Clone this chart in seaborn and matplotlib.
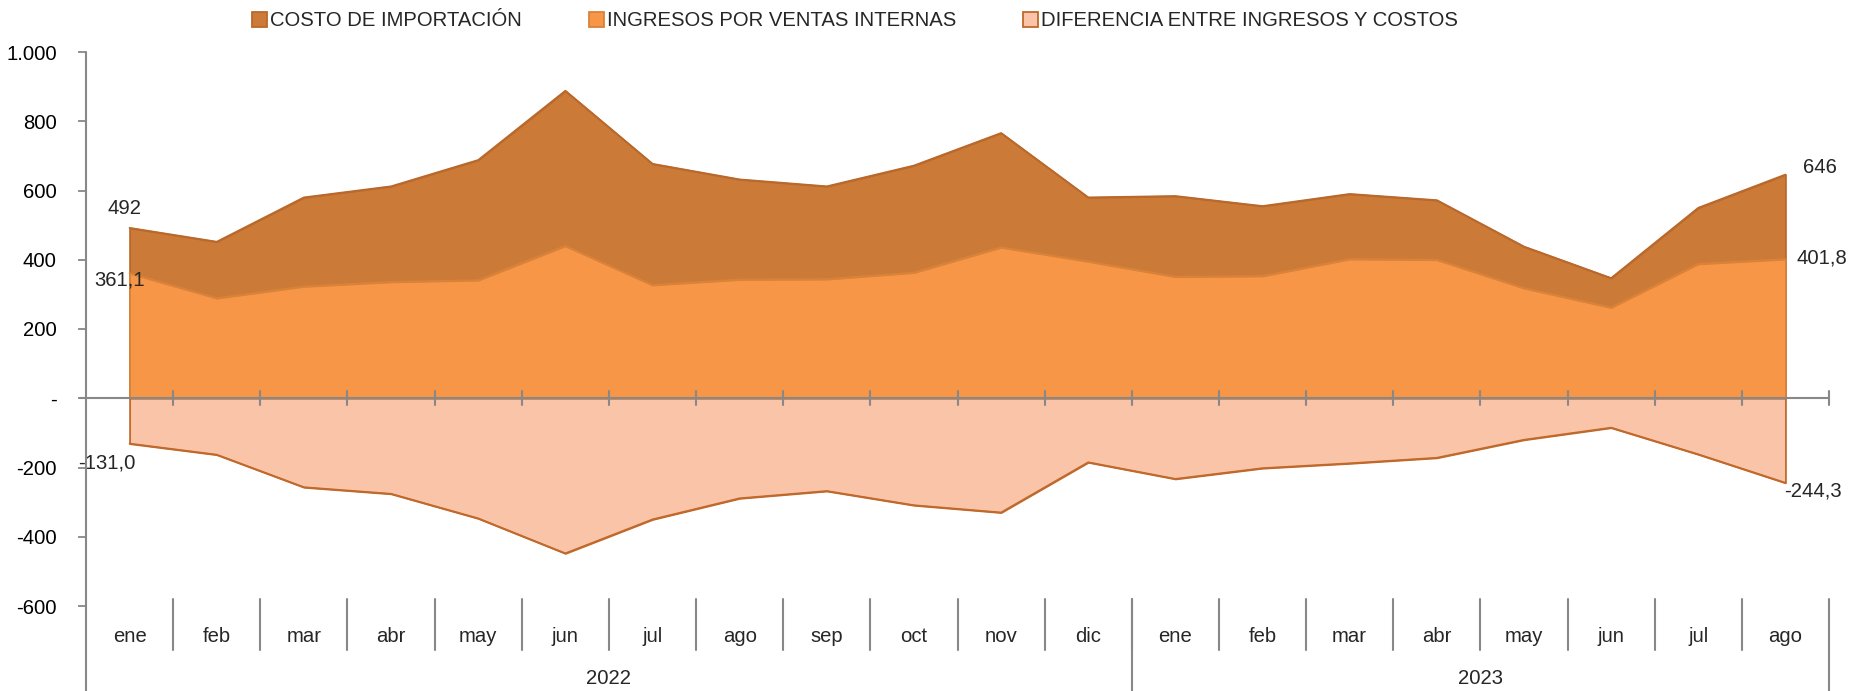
import matplotlib
matplotlib.use("Agg")
import matplotlib.pyplot as plt
import matplotlib.transforms as mtransforms
from matplotlib.patches import Patch
import seaborn as sns
import pandas as pd

# ---------------- data ----------------
months = ["ene", "feb", "mar", "abr", "may", "jun", "jul", "ago", "sep", "oct", "nov", "dic",
          "ene", "feb", "mar", "abr", "may", "jun", "jul", "ago"]
years = ["2022", "2023"]
year_counts = [12, 8]

costo = [492, 452, 580, 612, 688, 888, 677, 632, 612, 672, 766, 580,
         584, 555, 590, 572, 438, 347, 550, 646]
ingresos = [361.1, 289, 323, 336, 341, 440, 327, 343, 344, 363, 436, 395,
            351, 353, 402, 400, 318, 262, 388, 401.8]
diferencia = [-131.0, -163, -257, -276, -347, -448, -350, -289, -268, -309, -330, -185,
              -233, -202, -188, -172, -120, -85, -162, -244.3]

series_names = ["COSTO DE IMPORTACIÓN", "INGRESOS POR VENTAS INTERNAS",
                "DIFERENCIA ENTRE INGRESOS Y COSTOS"]

yticks = [-600, -400, -200, 0, 200, 400, 600, 800, 1000]
ytick_labels = ["-600", "-400", "-200", "-", "200", "400", "600", "800", "1.000"]

# ---------------- style ----------------
sns.set_theme(style="white")
plt.rcParams["font.family"] = ["Liberation Sans", "DejaVu Sans"]
FS = 14.6

fills = ["#CC7A38", "#F79646", "#F9C4A8"]
edges = ["#B9692B", "#D9823A", "#C0692A"]
grey = "#888888"

df = pd.DataFrame({"x": list(range(len(months))), "costo": costo,
                   "ingresos": ingresos, "diferencia": diferencia})

W, H = 1851, 691
fig = plt.figure(figsize=(W / 100, H / 100), dpi=100)
left_px, right_px, top_px, bottom_px = 86, 1829, 52, 606
ax = fig.add_axes([left_px / W, (H - bottom_px) / H,
                   (right_px - left_px) / W, (bottom_px - top_px) / H])

for col, fc, ec in zip(["costo", "ingresos", "diferencia"], fills, edges):
    ax.fill_between(df["x"], 0, df[col], facecolor=fc, edgecolor=ec, linewidth=1.3, zorder=2)
    sns.lineplot(data=df, x="x", y=col, ax=ax, color=ec, linewidth=1.3, zorder=3, legend=False)

n = len(months)
ax.set_xlim(-0.5, n - 0.5)
ax.set_ylim(-600, 1000)
ax.set_xlabel("")
ax.set_ylabel("")

# y axis
ax.set_yticks(yticks)
ax.set_yticklabels(ytick_labels, fontsize=FS, color="black")
ax.tick_params(axis="y", which="major", direction="out", length=6, width=1.3,
               color=grey, pad=15, left=True)
ax.set_xticks([])
for s in ["top", "right", "bottom", "left"]:
    ax.spines[s].set_visible(False)

# left axis line extending to the bottom of the figure
axes_h = bottom_px - top_px
ybot = -(H - bottom_px) / axes_h
ax.plot([0, 0], [ybot, 1], transform=ax.transAxes, color=grey, lw=1.5,
        clip_on=False, zorder=5)

# horizontal axis at zero with boundary ticks
trans_x0 = mtransforms.blended_transform_factory(ax.transAxes, ax.transData)
ax.plot([-6 / (right_px - left_px), 1], [0, 0], transform=trans_x0, color=grey, lw=1.5,
        clip_on=False, zorder=5)
for k in range(1, n + 1):
    ax.plot([k - 0.5, k - 0.5], [-20, 20], color=grey, lw=1.5, clip_on=False, zorder=5)

# category labels (two levels)
trans_c = mtransforms.blended_transform_factory(ax.transData, ax.transAxes)
y_month = -(637 - bottom_px) / axes_h
y_sep_top = (bottom_px - 599) / axes_h
y_sep_bot = -(650 - bottom_px) / axes_h
y_year = -(679 - bottom_px) / axes_h
for i, m in enumerate(months):
    ax.text(i, y_month, m, transform=trans_c, ha="center", va="center", fontsize=FS)
for k in range(1, n):
    ax.plot([k - 0.5, k - 0.5], [y_sep_top, y_sep_bot], transform=trans_c,
            color=grey, lw=1.5, clip_on=False)
start = 0
for yr, cnt in zip(years, year_counts):
    end = start + cnt
    ax.text((start + end - 1) / 2, y_year, yr, transform=trans_c, ha="center",
            va="center", fontsize=FS)
    ax.plot([end - 0.5, end - 0.5], [y_sep_top, ybot], transform=trans_c,
            color=grey, lw=1.5, clip_on=False)
    start = end

# data labels (first and last)
def fmt(v, dec):
    if dec:
        return f"{v:.1f}".replace(".", ",")
    return f"{v:.0f}"

last = n - 1
ax.annotate(fmt(costo[0], False), (0, costo[0]), xytext=(-4, 14), textcoords="offset points",
            ha="center", va="center", fontsize=FS)
ax.annotate(fmt(ingresos[0], True), (0, ingresos[0]), xytext=(11, -5), textcoords="offset points",
            ha="right", va="center", fontsize=FS)
ax.annotate(fmt(diferencia[0], True), (0, diferencia[0]), xytext=(4, -14), textcoords="offset points",
            ha="right", va="center", fontsize=FS)
ax.annotate(fmt(costo[last], False), (last, costo[last]), xytext=(13, 5), textcoords="offset points",
            ha="left", va="center", fontsize=FS)
ax.annotate(fmt(ingresos[last], True), (last, ingresos[last]), xytext=(8, 1), textcoords="offset points",
            ha="left", va="center", fontsize=FS)
ax.annotate(fmt(diferencia[last], True), (last, diferencia[last]), xytext=(-1, -6), textcoords="offset points",
            ha="left", va="center", fontsize=FS)

# legend
handles = [Patch(facecolor=fc, edgecolor=ec, linewidth=1.3) for fc, ec in zip(fills, edges)]
fig.legend(handles, series_names, loc="center", bbox_to_anchor=(855 / W, 1 - 21 / H),
           ncol=3, frameon=False, fontsize=FS, handlelength=0.75, handleheight=0.75,
           handletextpad=0.15, columnspacing=3.3, borderpad=0)

fig.savefig("out.png", dpi=100, facecolor="white")
